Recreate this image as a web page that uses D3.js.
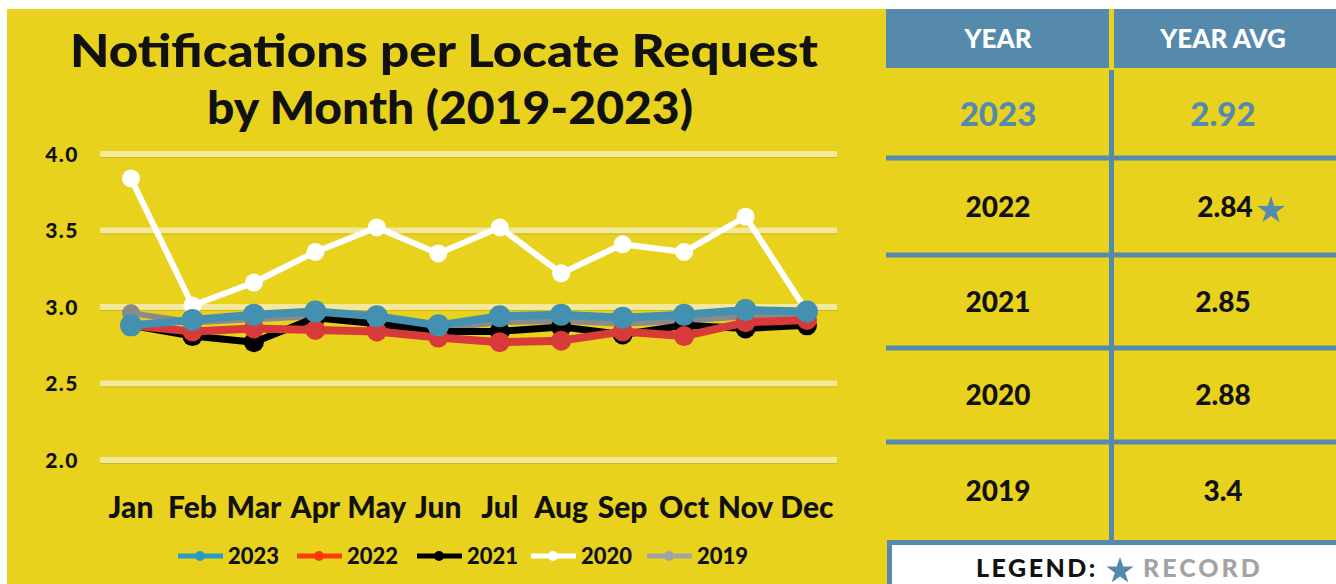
<!DOCTYPE html>
<html>
<head>
<meta charset="utf-8">
<script src="https://cdn.jsdelivr.net/npm/d3@7"></script>
<style>
  body { margin: 0; background: #fff; }
  svg { display: block; font-family: Lato, "Open Sans", sans-serif; }
</style>
</head>
<body>
<div id="chart"></div>
<script>
const months = ["Jan","Feb","Mar","Apr","May","Jun","Jul","Aug","Sep","Oct","Nov","Dec"]
const yTicks = [2.0, 2.5, 3.0, 3.5, 4.0]

const s2019 = [2.96, 2.90, 2.92, 2.94, 2.91, 2.86, 2.90, 2.91, 2.89, 2.91, 2.94, 2.95]
const s2020 = [3.84, 3.01, 3.16, 3.36, 3.52, 3.35, 3.52, 3.22, 3.41, 3.36, 3.59, 2.97]
const s2021 = [2.88, 2.81, 2.77, 2.93, 2.89, 2.84, 2.84, 2.87, 2.82, 2.88, 2.86, 2.88]
const s2022 = [2.88, 2.84, 2.86, 2.85, 2.84, 2.80, 2.77, 2.78, 2.84, 2.81, 2.90, 2.915]
const s2023 = [2.88, 2.915, 2.95, 2.97, 2.94, 2.88, 2.94, 2.95, 2.93, 2.95, 2.98, 2.97]

const tableYears = ["2023", "2022", "2021", "2020", "2019"]
const tableAvgs = ["2.92", "2.84", "2.85", "2.88", "3.4"]
const tableRecord = [false, true, false, false, false]

const yellow = "#e9d21d"
const tblBlue = "#568aad"

// draw order: bottom to top
const series = [
  { name: "2019", values: s2019, color: "#8b8b8b", r: 9, w: 6 },
  { name: "2020", values: s2020, color: "#ffffff", r: 9, w: 6 },
  { name: "2021", values: s2021, color: "#000000", r: 10, w: 7 },
  { name: "2022", values: s2022, color: "#d73a38", r: 10, w: 8 },
  { name: "2023", values: s2023, color: "#4390b0", r: 11, w: 8 }
]
const legendItems = [
  { name: "2023", color: "#2a9cc2" },
  { name: "2022", color: "#ff3a0a" },
  { name: "2021", color: "#000000" },
  { name: "2020", color: "#ffffff" },
  { name: "2019", color: "#a3a3a3" }
]

const width = 1336
const height = 584

const svg = d3.select("#chart").append("svg")
  .attr("width", width)
  .attr("height", height)

svg.append("rect")
  .attr("x", 7).attr("y", 9)
  .attr("width", width - 7).attr("height", height - 9)
  .attr("fill", yellow)

// title
svg.append("text")
  .attr("x", 70).attr("y", 67)
  .attr("textLength", 748).attr("lengthAdjust", "spacingAndGlyphs")
  .attr("font-size", 46).attr("font-weight", 900)
  .attr("fill", "#111")
  .text("Notifications per Locate Request")
svg.append("text")
  .attr("x", 207).attr("y", 124)
  .attr("textLength", 486).attr("lengthAdjust", "spacingAndGlyphs")
  .attr("font-size", 46).attr("font-weight", 900)
  .attr("fill", "#111")
  .text("by Month (2019-2023)")

const x = d3.scalePoint().domain(months).range([131, 807])
const y = d3.scaleLinear().domain([2, 4]).range([460, 154])

// gridlines
const grid = svg.append("g")
grid.selectAll("rect.gl")
  .data(yTicks)
  .join("rect")
    .attr("class", "gl")
    .attr("x", 100).attr("width", 737)
    .attr("y", d => y(d) - 3).attr("height", 6)
    .attr("fill", "#f3e89c")
grid.selectAll("line.gs")
  .data(yTicks)
  .join("line")
    .attr("class", "gs")
    .attr("x1", 100).attr("x2", 837)
    .attr("y1", d => y(d) + 3.5).attr("y2", d => y(d) + 3.5)
    .attr("stroke", "#cdb718").attr("stroke-width", 1)

// y labels
svg.append("g").selectAll("text")
  .data(yTicks)
  .join("text")
    .attr("x", 79).attr("y", d => y(d))
    .attr("dy", "0.36em")
    .attr("text-anchor", "end")
    .attr("font-size", 21).attr("font-weight", 900)
    .attr("letter-spacing", 1.5)
    .attr("fill", "#111")
    .text(d => d.toFixed(1))

// month labels
svg.append("g").selectAll("text")
  .data(months)
  .join("text")
    .attr("x", d => x(d)).attr("y", 518)
    .attr("text-anchor", "middle")
    .attr("font-size", 30).attr("font-weight", 900)
    .attr("fill", "#111")
    .text(d => d)

// lines
const line = d3.line()
  .x((d, i) => x(months[i]))
  .y(d => y(d))

series.forEach(s => {
  const g = svg.append("g")
  g.append("path")
    .attr("d", line(s.values))
    .attr("fill", "none")
    .attr("stroke", s.color)
    .attr("stroke-width", s.w)
    .attr("stroke-linejoin", "round")
  g.selectAll("circle")
    .data(s.values)
    .join("circle")
      .attr("cx", (d, i) => x(months[i]))
      .attr("cy", d => y(d))
      .attr("r", s.r)
      .attr("fill", s.color)
})

// bottom legend
const legX = [178, 297, 417, 531, 647]
const leg = svg.append("g")
legendItems.forEach((d, i) => {
  const lx = legX[i]
  leg.append("line")
    .attr("x1", lx).attr("x2", lx + 45)
    .attr("y1", 556).attr("y2", 556)
    .attr("stroke", d.color).attr("stroke-width", 5)
  leg.append("circle")
    .attr("cx", lx + 22).attr("cy", 556).attr("r", 5)
    .attr("fill", d.color)
  leg.append("text")
    .attr("x", lx + 50).attr("y", 556)
    .attr("dy", "0.36em")
    .attr("font-size", 22).attr("font-weight", 900)
    .attr("fill", "#111")
    .text(d.name)
})

// table
const col1 = 886, colDiv = 1109, col2 = 1114
const rowTops = [68, 158, 255, 348, 442]
const rowBottoms = [158, 255, 348, 442, 540]
const tbl = svg.append("g")

tbl.append("rect")
  .attr("x", col1).attr("y", 9)
  .attr("width", colDiv - col1).attr("height", 59)
  .attr("fill", tblBlue)
tbl.append("rect")
  .attr("x", col2).attr("y", 9)
  .attr("width", width - col2).attr("height", 59)
  .attr("fill", tblBlue)

tbl.append("text")
  .attr("x", 998).attr("y", 39).attr("dy", "0.36em")
  .attr("text-anchor", "middle")
  .attr("font-size", 26).attr("font-weight", 900).attr("fill", "#fff")
  .text("YEAR")
tbl.append("text")
  .attr("x", 1223).attr("y", 39).attr("dy", "0.36em")
  .attr("text-anchor", "middle")
  .attr("font-size", 26).attr("font-weight", 900).attr("fill", "#fff")
  .text("YEAR AVG")

// vertical divider
tbl.append("rect")
  .attr("x", colDiv).attr("y", 70)
  .attr("width", 5).attr("height", 470)
  .attr("fill", tblBlue)

// horizontal rules
tbl.selectAll("rect.hr")
  .data(rowBottoms.slice(0, 4))
  .join("rect")
    .attr("class", "hr")
    .attr("x", col1).attr("width", width - col1)
    .attr("y", d => d - 2.5).attr("height", 5)
    .attr("fill", tblBlue)

tableYears.forEach((yr, i) => {
  const cy = (rowTops[i] + rowBottoms[i]) / 2 + (i === 0 ? 1 : 0)
  const first = i === 0
  tbl.append("text")
    .attr("x", 998).attr("y", cy).attr("dy", "0.36em")
    .attr("text-anchor", "middle")
    .attr("font-size", first ? 33 : 28).attr("font-weight", 900)
    .attr("fill", first ? tblBlue : "#111")
    .text(yr)
  tbl.append("text")
    .attr("x", tableRecord[i] ? 1225 : 1223).attr("y", cy).attr("dy", "0.36em")
    .attr("text-anchor", "middle")
    .attr("font-size", first ? 33 : 28).attr("font-weight", 900)
    .attr("fill", first ? tblBlue : "#111")
    .text(tableAvgs[i])
  if (tableRecord[i]) {
    tbl.append("path")
      .attr("d", d3.symbol(d3.symbolStar, 240)())
      .attr("transform", `translate(1271, ${cy + 4})`)
      .attr("fill", tblBlue)
  }
})

// record legend box
tbl.append("rect")
  .attr("x", 889.5).attr("y", 542.5)
  .attr("width", width - 889.5 + 10).attr("height", 60)
  .attr("fill", "#fff")
  .attr("stroke", tblBlue).attr("stroke-width", 5)
tbl.append("text")
  .attr("x", 976).attr("y", 577)
  .attr("font-size", 25).attr("font-weight", 900)
  .attr("letter-spacing", 2.5).attr("fill", "#111")
  .text("LEGEND:")
tbl.append("path")
  .attr("d", d3.symbol(d3.symbolStar, 230)())
  .attr("transform", "translate(1120, 571)")
  .attr("fill", tblBlue)
tbl.append("text")
  .attr("x", 1143).attr("y", 577)
  .attr("font-size", 25).attr("font-weight", 900)
  .attr("letter-spacing", 3).attr("fill", "#a3a3a3")
  .text("RECORD")
</script>
</body>
</html>
